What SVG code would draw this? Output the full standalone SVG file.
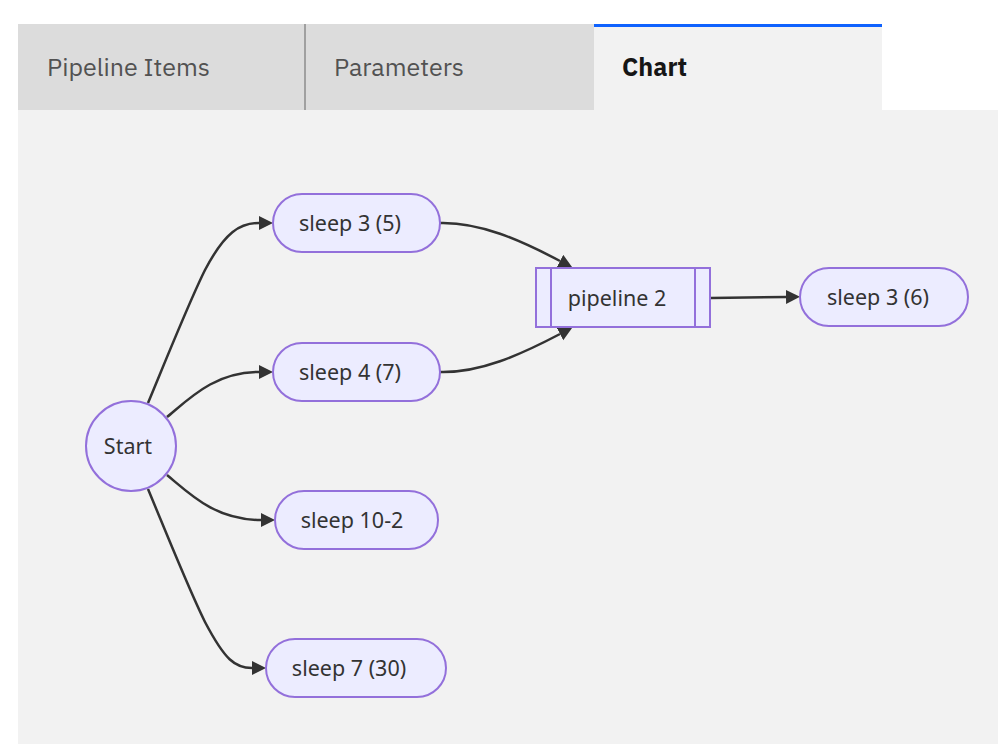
<svg xmlns="http://www.w3.org/2000/svg" width="998" height="744" viewBox="0 0 998 744">
<style>
.tab{font-family:"IBM Plex Sans","Noto Sans","Liberation Sans",sans-serif;font-size:25px;fill:#525252}
.tabon{font-family:"IBM Plex Sans","Noto Sans","Liberation Sans",sans-serif;font-size:25px;font-weight:bold;fill:#161616}
.node{fill:#ececff;stroke:#9370db;stroke-width:2}
.lbl{font-family:"Noto Sans","DejaVu Sans",sans-serif;font-size:21.5px;fill:#333;text-anchor:middle;dominant-baseline:central}
.edge{fill:none;stroke:#333;stroke-width:2.5}
</style>
<defs>
<marker id="arr" markerUnits="userSpaceOnUse" markerWidth="16" markerHeight="16" refX="0" refY="7" orient="auto">
<path d="M0,0 L14,7 L0,14 z" fill="#333"/>
</marker>
</defs>
<rect x="0" y="0" width="998" height="744" fill="#ffffff"/>
<g id="tabs">
<rect x="18" y="24" width="576" height="86" fill="#dcdcdc"/>
<line x1="305" y1="24" x2="305" y2="110" stroke="#8d8d8d" stroke-width="1.5"/>
<rect x="594" y="24" width="288" height="86" fill="#f2f2f2"/>
<rect x="594" y="24" width="288" height="3" fill="#0f62fe"/>
<text class="tab" x="47" y="76">Pipeline Items</text>
<text class="tab" x="334" y="76">Parameters</text>
<text class="tabon" x="622" y="76">Chart</text>
</g>
<rect x="18" y="110" width="980" height="634" fill="#f2f2f2"/>
<g id="connectors">
<path class="edge" marker-end="url(#arr)" d="M148,403 C170,350 190,300 205,270 C225,232 240,223 259,223"/>
<path class="edge" marker-end="url(#arr)" d="M167,417 C190,398 215,372 259,372"/>
<path class="edge" marker-end="url(#arr)" d="M167,475 C190,494 215,520 261,520"/>
<path class="edge" marker-end="url(#arr)" d="M148,489 C170,542 190,592 205,622 C225,660 235,668 252,668"/>
<path class="edge" marker-end="url(#arr)" d="M440,223 C480,222 520,240 560,261"/>
<path class="edge" marker-end="url(#arr)" d="M440,372 C480,373 520,355 560,334"/>
<path class="edge" marker-end="url(#arr)" d="M711,298 L786,297"/>
</g>
<g id="start">
<circle class="node" cx="131" cy="446" r="45"/>
<text class="lbl" x="128" y="445">Start</text>
</g>
<g id="sleep35">
<rect class="node" x="273" y="194" width="167" height="58" rx="29"/>
<text class="lbl" x="350" y="222">sleep 3 (5)</text>
</g>
<g id="sleep47">
<rect class="node" x="273" y="343" width="167" height="58" rx="29"/>
<text class="lbl" x="350" y="371">sleep 4 (7)</text>
</g>
<g id="sleep102">
<rect class="node" x="275" y="491" width="163" height="58" rx="29"/>
<text class="lbl" x="352" y="519">sleep 10-2</text>
</g>
<g id="sleep730">
<rect class="node" x="266" y="639" width="180" height="58" rx="29"/>
<text class="lbl" x="349" y="667">sleep 7 (30)</text>
</g>
<g id="pipeline2">
<rect class="node" x="536" y="268" width="174" height="59"/>
<line x1="551" y1="268" x2="551" y2="327" stroke="#9370db" stroke-width="2"/>
<line x1="695" y1="268" x2="695" y2="327" stroke="#9370db" stroke-width="2"/>
<text class="lbl" x="617" y="297">pipeline 2</text>
</g>
<g id="sleep36">
<rect class="node" x="800" y="268" width="168" height="58" rx="29"/>
<text class="lbl" x="878" y="296">sleep 3 (6)</text>
</g>
</svg>
